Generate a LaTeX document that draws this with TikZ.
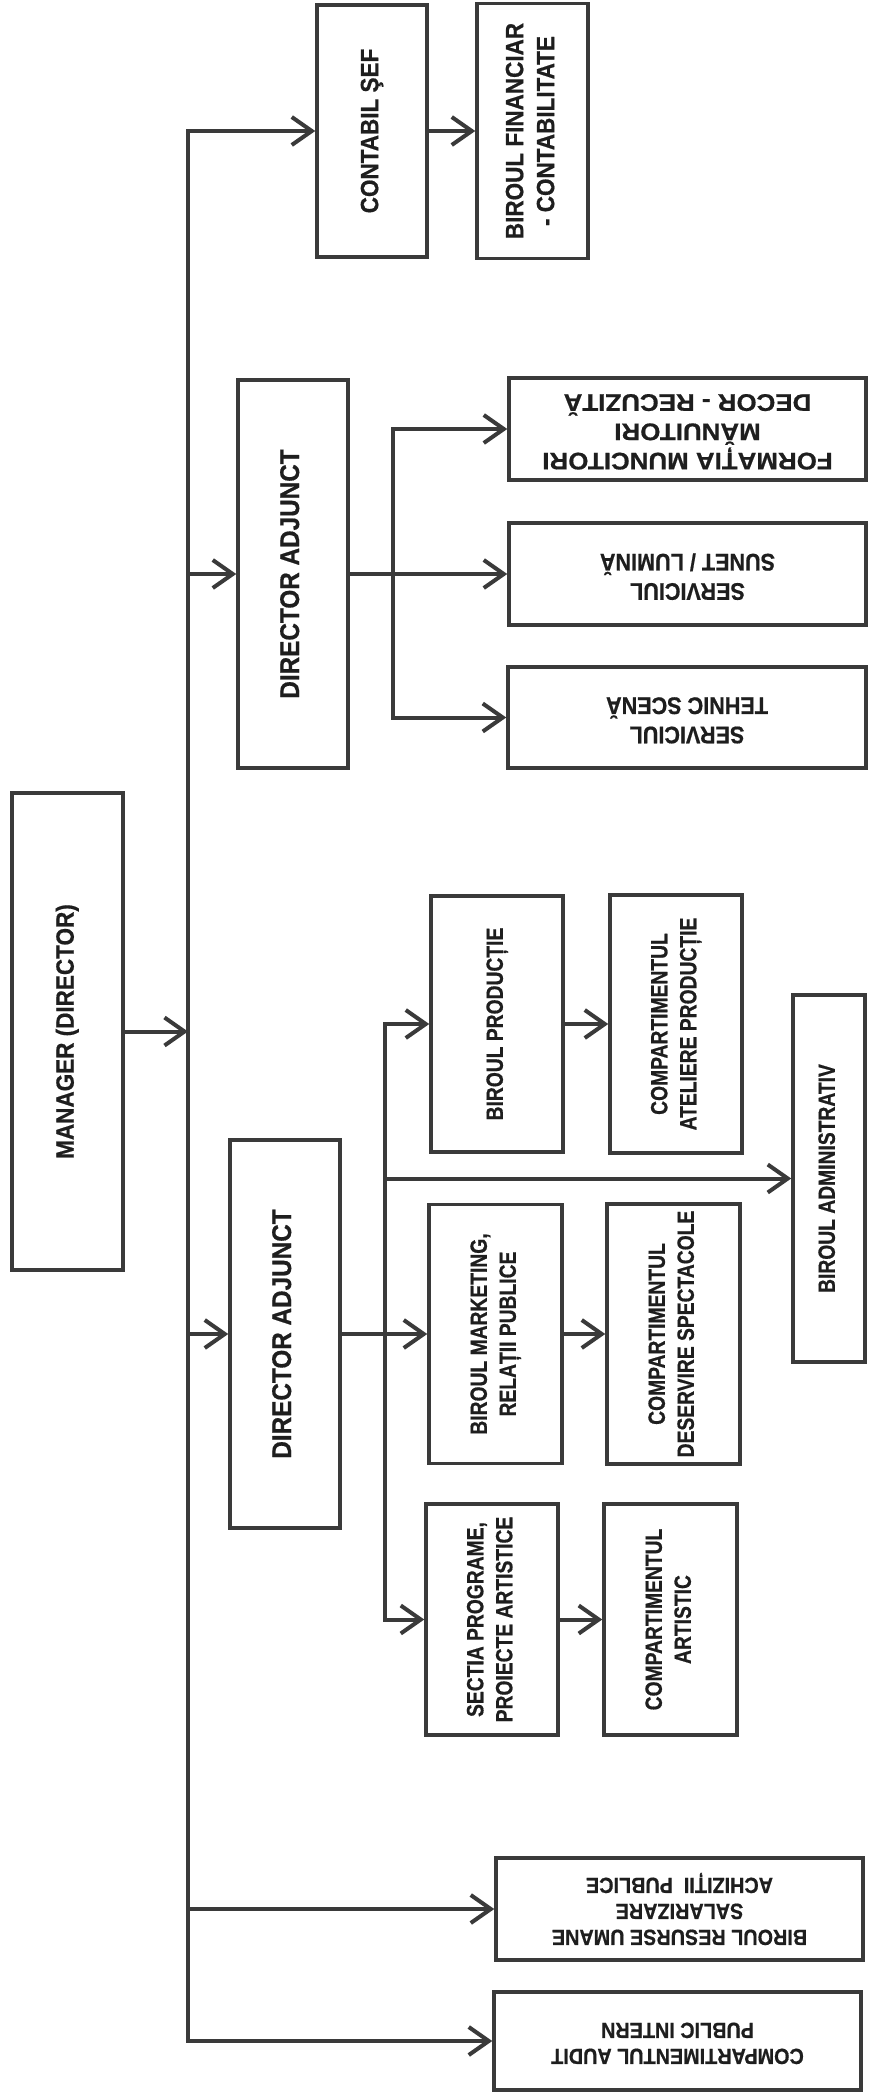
\documentclass[tikz,border=0pt]{standalone}
\usepackage{fontspec}
\setmainfont{Liberation Sans}
\usetikzlibrary{arrows.meta}
\newfontfamily\fW[FakeStretch=0.9, FakeBold=0.6]{Liberation Sans Bold}
\newfontfamily\fN[FakeStretch=0.82, FakeBold=0.6]{Liberation Sans Bold}
\newfontfamily\fU[FakeStretch=0.9, FakeBold=0.6]{Liberation Sans Bold}
\newfontfamily\fUw[FakeStretch=1.08, FakeBold=0.6]{Liberation Sans Bold}
\definecolor{ink}{HTML}{3A3A3A}
\definecolor{txt}{HTML}{1E1E1E}
\newcommand\rt[1]{\rotatebox{90}{\begin{tabular}{@{}c@{}}#1\end{tabular}}}
\newcommand\ud[1]{\rotatebox{180}{\begin{tabular}{@{}c@{}}#1\end{tabular}}}
\begin{document}
\begin{tikzpicture}[x=1pt,y=-1pt,
  box/.style={draw=ink, line width=3.5pt, fill=white, inner sep=0pt, text=txt},
  fw/.style={font=\fontsize{25}{31}\selectfont\fW},
  fd/.style={font=\fontsize{27}{30}\selectfont\fW},
  fn/.style={font=\fontsize{23.5}{29}\selectfont\fN},
  fu/.style={font=\fontsize{24}{27}\selectfont\fU},
  fuw/.style={font=\fontsize{24}{27}\selectfont\fUw},
  fs/.style={font=\fontsize{22}{26}\selectfont\fU},
  conn/.style={draw=ink, line width=4pt, line cap=rect},
  arr/.style={conn, -{Straight Barb[length=20pt,width=28pt]}}]
\fill[white] (0,0) rectangle (868,2093);
\useasboundingbox (0,0) rectangle (868,2093);

% top branch
\node[box, fw, minimum width=110pt, minimum height=252pt] (contabil) at (372,131) {\rt{CONTABIL ŞEF}};
\node[box, fw, minimum width=111pt, minimum height=255pt] (financiar) at (532.5,131) {\rt{BIROUL FINANCIAR\\- CONTABILITATE}};

% first deputy director
\node[box, fd, minimum width=110pt, minimum height=388pt] (da1) at (293,574) {\rt{DIRECTOR ADJUNCT}};
\node[box, fuw, minimum width=357pt, minimum height=102pt] (formatia) at (687.5,429) {\ud{FORMAȚIA MUNCITORI\\MĂNUITORI\\DECOR - RECUZITĂ}};
\node[box, fu, minimum width=357pt, minimum height=102pt] (sunet) at (687.5,574) {\ud{SERVICIUL\\SUNET / LUMINĂ}};
\node[box, fu, minimum width=358pt, minimum height=101pt] (tehnic) at (687,717.5) {\ud{SERVICIUL\\TEHNIC SCENĂ}};

% manager
\node[box, fw, minimum width=111pt, minimum height=477pt] (manager) at (67.5,1031.5) {\rt{MANAGER (DIRECTOR)}};

% second deputy director
\node[box, fd, minimum width=110pt, minimum height=388pt] (da2) at (285,1334) {\rt{DIRECTOR ADJUNCT}};
\node[box, fn, minimum width=132pt, minimum height=256pt] (productie) at (497,1024) {\rt{BIROUL PRODUCȚIE}};
\node[box, fn, minimum width=132pt, minimum height=258pt] (ateliere) at (676,1024) {\rt{COMPARTIMENTUL\\ATELIERE PRODUCȚIE}};
\node[box, fn, minimum width=72pt, minimum height=367pt] (admin) at (829,1178.5) {\rt{BIROUL ADMINISTRATIV}};
\node[box, fn, minimum width=133pt, minimum height=259pt] (marketing) at (495.5,1334) {\rt{BIROUL MARKETING,\\RELAȚII PUBLICE}};
\node[box, fn, minimum width=133pt, minimum height=260pt] (deservire) at (673.5,1334) {\rt{COMPARTIMENTUL\\DESERVIRE SPECTACOLE}};
\node[box, fn, minimum width=132pt, minimum height=231pt] (sectia) at (492,1619.5) {\rt{SECTIA PROGRAME,\\PROIECTE ARTISTICE}};
\node[box, fn, minimum width=133pt, minimum height=231pt] (artistic) at (670.5,1619.5) {\rt{COMPARTIMENTUL\\ARTISTIC}};

% bottom boxes
\node[box, fs, minimum width=367pt, minimum height=102pt] (resurse) at (679.5,1909) {\ud{BIROUL RESURSE UMANE\\SALARIZARE\\ACHIZIȚII\ \ PUBLICE}};
\node[box, fs, minimum width=367pt, minimum height=98pt] (audit) at (677.5,2041) {\ud{COMPARTIMENTUL AUDIT\\PUBLIC INTERN}};

% trunk lines
\coordinate (tx) at (188,0);
\coordinate (sx1) at (393,0);
\coordinate (sx2) at (385,0);

\draw[conn] (contabil -| tx) -- (audit -| tx);
\draw[arr] (contabil -| tx) -- (contabil);
\draw[arr] (da1 -| tx) -- (da1);
\draw[arr] (manager) -- (manager -| tx);
\draw[arr] (da2 -| tx) -- (da2);
\draw[arr] (resurse -| tx) -- (resurse);
\draw[arr] (audit -| tx) -- (audit);
\draw[arr] (contabil) -- (financiar);

\draw[arr] (da1) -- (sunet);
\draw[conn] (formatia -| sx1) -- (tehnic -| sx1);
\draw[arr] (formatia -| sx1) -- (formatia);
\draw[arr] (tehnic -| sx1) -- (tehnic);

\draw[arr] (da2) -- (marketing);
\draw[conn] (productie -| sx2) -- (sectia -| sx2);
\draw[arr] (productie -| sx2) -- (productie);
\draw[arr] (admin -| sx2) -- (admin);
\draw[arr] (sectia -| sx2) -- (sectia);
\draw[arr] (productie) -- (ateliere);
\draw[arr] (marketing) -- (deservire);
\draw[arr] (sectia) -- (artistic);
\end{tikzpicture}
\end{document}
